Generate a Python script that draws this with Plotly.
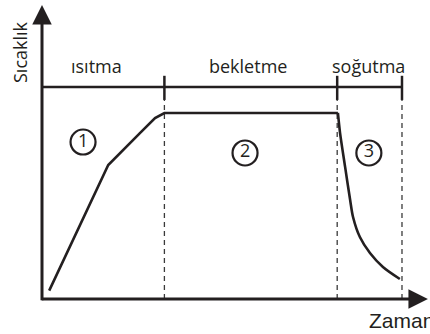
import plotly.graph_objects as go

# time / temperature profile (arbitrary units)
zaman = [2, 18.4, 27.2, 31.4, 34, 82.2, 82.8, 84.2, 85.6, 86.4, 88.3, 91.1, 94.7, 99.4]
sicaklik = [4.5, 72.0, 89.2, 97.3, 100, 100, 89.2, 71.0, 53.2, 44.1, 33.3, 24.7, 17.2, 10.75]
sogutma_basi = 5  # index where cooling starts

# phase boundaries on the time axis
sinirlar = [0, 34, 82, 100]
evreler = ['ısıtma', 'bekletme', 'soğutma']
evre_yazi_t = [15, 57.3, 90.6]

# circled phase numbers
numaralar = ['1', '2', '3']
numara_t = [11.4, 56.4, 90.8]
numara_T = [84.4, 78.5, 78.5]

ink = '#231f20'
font = 'Open Sans'

fig = go.Figure()

# dashed guides at the phase boundaries
for b in sinirlar[1:]:
    fig.add_trace(go.Scatter(x=[b, b], y=[0, 107], mode='lines',
                             line=dict(color='#3a3a3a', width=1.3, dash='5px,4px'),
                             hoverinfo='skip'))

# phase bar with ticks
fig.add_trace(go.Scatter(x=[0, sinirlar[-1]], y=[114, 114], mode='lines',
                         line=dict(color=ink, width=2.5), hoverinfo='skip'))
for b in sinirlar[1:]:
    fig.add_trace(go.Scatter(x=[b, b], y=[107, 120], mode='lines',
                             line=dict(color=ink, width=2.5), hoverinfo='skip'))

# the curve: heating + hold, then the smooth cooling part
fig.add_trace(go.Scatter(x=zaman[:sogutma_basi + 1], y=sicaklik[:sogutma_basi + 1],
                         mode='lines', line=dict(color=ink, width=2.6),
                         hoverinfo='skip'))
fig.add_trace(go.Scatter(x=zaman[sogutma_basi:], y=sicaklik[sogutma_basi:],
                         mode='lines', line=dict(color=ink, width=2.6, shape='spline',
                                                 smoothing=0.8),
                         hoverinfo='skip'))

# circled numbers
fig.add_trace(go.Scatter(x=numara_t, y=numara_T, mode='markers+text',
                         text=numaralar, textposition='middle center',
                         textfont=dict(family=font, size=18, color=ink),
                         marker=dict(symbol='circle-open', size=25, color=ink,
                                     line=dict(color=ink, width=2.2)),
                         hoverinfo='skip'))

# phase names
for name, t in zip(evreler, evre_yazi_t):
    fig.add_annotation(x=t, y=125, text=name, showarrow=False,
                       font=dict(family=font, size=18, color=ink))

# axes with arrows
fig.add_annotation(x=0, y=158, ax=0, ay=-1.5, xref='x', yref='y', axref='x', ayref='y',
                   text='', showarrow=True, arrowhead=2, arrowsize=1.3,
                   arrowwidth=3, arrowcolor=ink)
fig.add_annotation(x=107.2, y=0, ax=-0.5, ay=0, xref='x', yref='y', axref='x', ayref='y',
                   text='', showarrow=True, arrowhead=2, arrowsize=1.3,
                   arrowwidth=3, arrowcolor=ink)

fig.add_annotation(x=-6.1, y=132.8, text='Sıcaklık', textangle=-90, showarrow=False,
                   font=dict(family=font, size=18, color=ink))
fig.add_annotation(x=90.3, y=-11.3, text='Zaman', xanchor='left', showarrow=False,
                   font=dict(family='Liberation Sans', size=21, color=ink))

fig.update_layout(
    width=430, height=334,
    margin=dict(l=0, r=0, t=0, b=0),
    paper_bgcolor='white', plot_bgcolor='white',
    showlegend=False,
    xaxis=dict(range=[-11.667, 107.78], visible=False, fixedrange=True),
    yaxis=dict(range=[-18.82, 160.75], visible=False, fixedrange=True),
)

fig.write_html("out.html", config={'displayModeBar': False},
               post_script="document.body.style.margin='0';document.body.style.overflow='hidden';")
